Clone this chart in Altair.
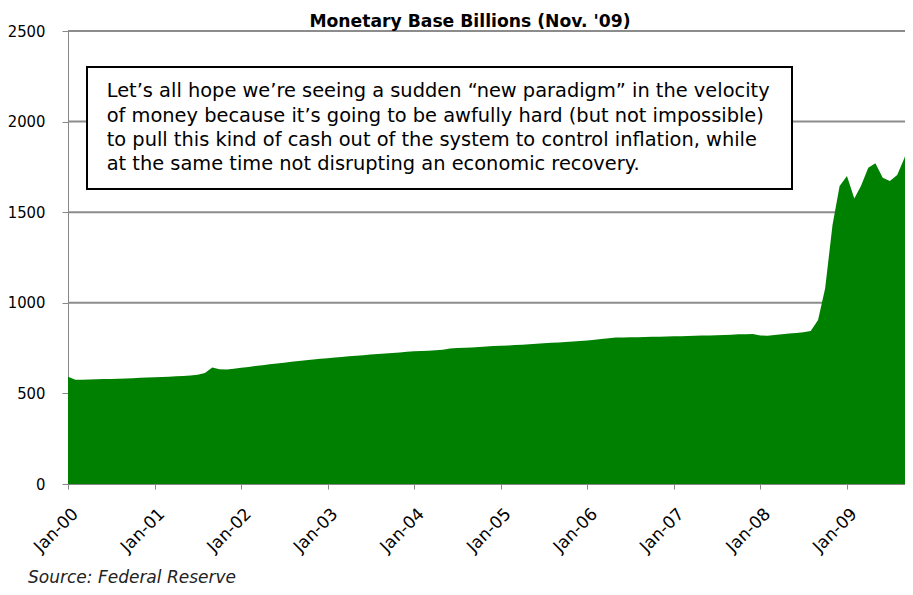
import altair as alt
import pandas as pd

FONT = "DejaVu Sans"
FONT_COND = "DejaVu Sans Condensed, DejaVu Sans"

title_text = "Monetary Base Billions (Nov. '09)"
source_text = "Source: Federal Reserve"
note_lines = [
    "Let\u2019s all hope we\u2019re seeing a sudden \u201cnew paradigm\u201d in the velocity",
    "of money because it\u2019s going to be awfully hard (but not impossible)",
    "to pull this kind of cash out of the system to control inflation, while",
    "at the same time not disrupting an economic recovery.",
]

years = list(range(2000, 2010))
months = [f"{y}-{m:02d}-01" for y in years for m in range(1, 13)][:119]

base_2000 = [592, 575, 576, 577, 578, 579, 580, 581, 582, 584, 586, 588]
base_2001 = [589, 591, 592, 594, 596, 599, 603, 612, 643, 633, 632, 636]
base_2002 = [642, 646, 651, 656, 661, 665, 669, 674, 679, 683, 687, 691]
base_2003 = [694, 698, 701, 705, 708, 711, 714, 717, 720, 723, 726, 730]
base_2004 = [732, 734, 736, 738, 741, 748, 751, 752, 754, 756, 759, 762]
base_2005 = [763, 765, 767, 769, 771, 774, 777, 779, 781, 783, 786, 789]
base_2006 = [792, 796, 800, 804, 808, 809, 810, 810, 811, 812, 813, 814]
base_2007 = [815, 816, 817, 818, 819, 820, 821, 822, 823, 826, 827, 828]
base_2008 = [820, 818, 822, 826, 830, 834, 838, 845, 905, 1080, 1430, 1645]
base_2009 = [1700, 1575, 1645, 1745, 1770, 1690, 1672, 1705, 1800, 1935, 2000]

values = (base_2000 + base_2001 + base_2002 + base_2003 + base_2004
          + base_2005 + base_2006 + base_2007 + base_2008 + base_2009)

y_ticks = [0, 500, 1000, 1500, 2000, 2500]
grid_values = [500, 1000, 1500, 2000, 2500]

df = pd.DataFrame({"date": months, "base": values})
grid_df = pd.DataFrame({"v": grid_values})
one = pd.DataFrame({"a": [0]})

W, H = 837, 453
GRAY = "#8c8c8c"

yscale = alt.Scale(domain=[0, 2500], nice=False, zero=True)
xscale = alt.Scale(
    type="utc",
    domain=[alt.DateTime(year=2000, month=1, date=1, utc=True),
            alt.DateTime(year=2009, month=9, date=3, utc=True)],
    nice=False,
)

y_axis = alt.Axis(
    title=None,
    values=y_ticks,
    format="d",
    labelFont=FONT_COND,
    labelFontSize=16.5,
    labelPadding=17,
    tickSize=6,
    grid=False,
)

grid = alt.Chart(grid_df).mark_rule(color=GRAY, strokeWidth=2).encode(
    y=alt.Y("v:Q", scale=yscale, axis=y_axis)
)

area = alt.Chart(df).mark_area(color="#008000", clip=True).encode(
    x=alt.X(
        "date:T",
        scale=xscale,
        axis=alt.Axis(
            title=None,
            values=[alt.DateTime(year=y, month=1, date=1, utc=True) for y in years],
            format="%b-%y",
            labelAngle=315,
            labelAlign="right",
            labelBaseline="middle",
            labelFont=FONT,
            labelFontSize=17,
            labelPadding=22,
            labelOffset=7,
            tickSize=5,
            grid=False,
        ),
    ),
    y=alt.Y("base:Q", scale=yscale, axis=y_axis),
)

box = alt.Chart(one).mark_rect(fill="white", stroke="black", strokeWidth=2).encode(
    x=alt.value(19), x2=alt.value(724), y=alt.value(36), y2=alt.value(158)
)

note = alt.Chart(one).mark_text(
    text=note_lines, align="left", baseline="alphabetic", lineHeight=24.3,
    font=FONT, fontSize=19.4, color="black",
).encode(x=alt.value(38.7), y=alt.value(66.3))

title = alt.Chart(one).mark_text(
    text=title_text, align="center", baseline="alphabetic",
    font=FONT, fontSize=17.2, fontWeight="bold", color="black",
).encode(x=alt.value(402), y=alt.value(-4.3))

source = alt.Chart(one).mark_text(
    text=source_text, align="left", baseline="alphabetic",
    font=FONT, fontSize=17, fontStyle="italic", color="#222222",
).encode(x=alt.value(-40), y=alt.value(552))

chart = alt.layer(grid, area, box, note, title, source).properties(
    width=W,
    height=H,
    autosize=alt.AutoSizeParams(type="none"),
    padding={"left": 60, "top": 23, "right": 0, "bottom": 103},
).configure_axis(
    zindex=1,
    domainColor=GRAY,
    domainWidth=2,
    tickColor=GRAY,
    tickWidth=2,
    labelColor="black",
).configure_view(stroke=None).configure(background="white")

chart.save("out.html", embed_options={"renderer": "svg", "actions": False})
